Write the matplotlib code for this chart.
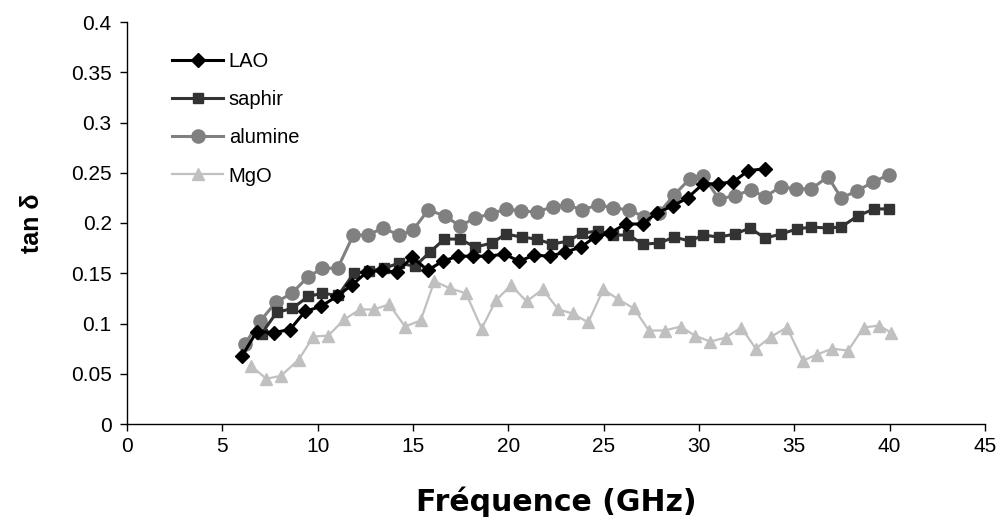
import matplotlib
matplotlib.use("Agg")
import matplotlib.pyplot as plt

plt.rcParams['font.family'] = ['Liberation Sans', 'DejaVu Sans']

lao_x = [6.05, 6.80, 7.72, 8.55, 9.34, 10.17, 11.0, 11.78, 12.57, 13.36, 14.14, 14.96,
         15.77, 16.56, 17.37, 18.16, 18.95, 19.79, 20.57, 21.36, 22.18, 22.97, 23.81,
         24.54, 25.33, 26.15, 27.04, 27.78, 28.62, 29.40, 30.22, 30.98, 31.80, 32.58, 33.46]
lao_y = [0.068, 0.092, 0.091, 0.094, 0.112, 0.117, 0.127, 0.138, 0.151, 0.153, 0.151, 0.166,
         0.153, 0.162, 0.167, 0.167, 0.167, 0.169, 0.162, 0.168, 0.167, 0.171, 0.176,
         0.186, 0.190, 0.199, 0.199, 0.210, 0.217, 0.225, 0.239, 0.239, 0.241, 0.252, 0.254]

saphir_x = [7.06, 7.85, 8.67, 9.51, 10.24, 11.08, 11.90, 12.69, 13.49, 14.26, 15.10, 15.89,
            16.64, 17.46, 18.27, 19.12, 19.88, 20.70, 21.48, 22.30, 23.11, 23.88, 24.70,
            25.50, 26.29, 27.08, 27.90, 28.70, 29.52, 30.22, 31.05, 31.88, 32.67, 33.46,
            34.30, 35.12, 35.90, 36.74, 37.46, 38.32, 39.19, 39.96]
saphir_y = [0.090, 0.111, 0.115, 0.127, 0.130, 0.128, 0.150, 0.152, 0.155, 0.160, 0.157, 0.171,
            0.184, 0.184, 0.176, 0.180, 0.189, 0.186, 0.184, 0.179, 0.182, 0.190, 0.192,
            0.188, 0.188, 0.179, 0.180, 0.186, 0.182, 0.188, 0.186, 0.189, 0.195, 0.185,
            0.189, 0.194, 0.196, 0.195, 0.196, 0.207, 0.214, 0.214]

alumine_x = [6.19, 6.97, 7.80, 8.64, 9.47, 10.24, 11.05, 11.87, 12.65, 13.41, 14.28, 15.0,
             15.80, 16.68, 17.46, 18.25, 19.07, 19.87, 20.65, 21.48, 22.32, 23.09, 23.88,
             24.70, 25.50, 26.33, 27.13, 27.90, 28.70, 29.52, 30.22, 31.04, 31.88, 32.72,
             33.46, 34.28, 35.08, 35.90, 36.76, 37.46, 38.30, 39.14, 39.97]
alumine_y = [0.080, 0.102, 0.121, 0.130, 0.146, 0.155, 0.155, 0.188, 0.188, 0.195, 0.188, 0.193,
             0.213, 0.207, 0.197, 0.205, 0.209, 0.214, 0.212, 0.211, 0.216, 0.218, 0.213,
             0.218, 0.215, 0.213, 0.206, 0.210, 0.228, 0.244, 0.247, 0.224, 0.227, 0.233,
             0.226, 0.236, 0.234, 0.234, 0.246, 0.225, 0.232, 0.241, 0.248]

mgo_x = [6.49, 7.31, 8.08, 9.00, 9.78, 10.56, 11.39, 12.22, 12.95, 13.75, 14.58, 15.40,
         16.12, 16.94, 17.78, 18.60, 19.35, 20.14, 20.96, 21.80, 22.62, 23.37, 24.19,
         24.98, 25.77, 26.59, 27.37, 28.20, 29.04, 29.77, 30.59, 31.40, 32.21, 32.98,
         33.79, 34.61, 35.45, 36.17, 36.99, 37.82, 38.63, 39.45, 40.06]
mgo_y = [0.058, 0.045, 0.048, 0.064, 0.087, 0.088, 0.104, 0.114, 0.114, 0.119, 0.097, 0.103,
         0.142, 0.135, 0.130, 0.095, 0.123, 0.138, 0.122, 0.134, 0.114, 0.110, 0.101,
         0.134, 0.124, 0.115, 0.093, 0.093, 0.097, 0.088, 0.082, 0.086, 0.096, 0.075,
         0.087, 0.096, 0.063, 0.069, 0.075, 0.073, 0.096, 0.098, 0.091]

x_ticks = [0, 5, 10, 15, 20, 25, 30, 35, 40, 45]
y_ticks = [0, 0.05, 0.1, 0.15, 0.2, 0.25, 0.3, 0.35, 0.4]
y_tick_labels = ["0", "0.05", "0.1", "0.15", "0.2", "0.25", "0.3", "0.35", "0.4"]

fig = plt.figure(figsize=(10.04, 5.26), dpi=100)
ax = fig.add_axes([127/1004, 1 - 424/526, 858/1004, 402/526])

ax.plot(lao_x, lao_y, color='#000000', lw=2.2, marker='D', ms=7.5, label='LAO', zorder=5)
ax.plot(saphir_x, saphir_y, color='#333333', lw=2.2, marker='s', ms=6.5, label='saphir', zorder=4)
ax.plot(alumine_x, alumine_y, color='#808080', lw=2.2, marker='o', ms=9.5, label='alumine', zorder=3)
ax.plot(mgo_x, mgo_y, color='#c0c0c0', lw=1.6, marker='^', ms=8.5, label='MgO', zorder=2)

ax.set_xlim(0, 45)
ax.set_ylim(0, 0.4)
ax.set_xticks(x_ticks)
ax.set_xticklabels([str(t) for t in x_ticks])
ax.set_yticks(y_ticks)
ax.set_yticklabels(y_tick_labels)
ax.tick_params(axis='both', direction='out', length=5, width=1, labelsize=15, color='#000000')
ax.tick_params(axis='x', pad=4)
ax.tick_params(axis='y', pad=6)
for s in ['top', 'right']:
    ax.spines[s].set_visible(False)
for s in ['left', 'bottom']:
    ax.spines[s].set_color('#000000')
    ax.spines[s].set_linewidth(1)

ax.set_xlabel('Fréquence (GHz)', fontsize=21.5, fontweight='bold', labelpad=22,
              family=['DejaVu Sans'])
ax.set_ylabel('tan δ', fontsize=18, fontweight='bold', labelpad=19)

ax.legend(loc='upper left', bbox_to_anchor=(0.053, 0.925), frameon=False, fontsize=14.5,
          handlelength=2.5, handletextpad=0.3, labelspacing=0.95, borderpad=0, borderaxespad=0)

fig.savefig('out.png', dpi=100)
